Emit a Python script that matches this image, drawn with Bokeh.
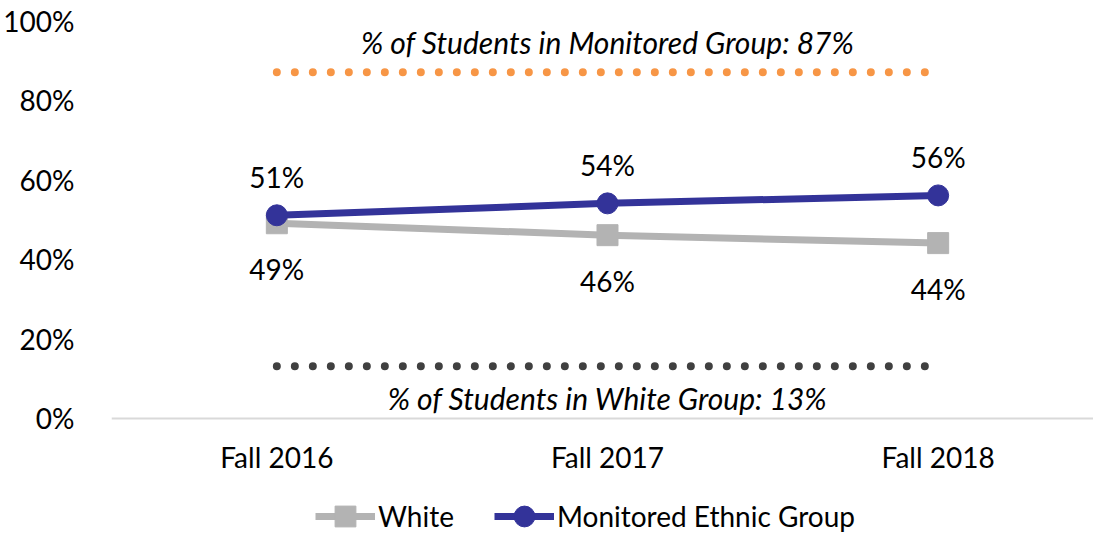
from bokeh.plotting import figure
from bokeh.models import Range1d, FixedTicker, Legend, LegendItem, ColumnDataSource
from bokeh.core.properties import value
from bokeh.embed import file_html
from bokeh.resources import INLINE

terms = ["Fall 2016", "Fall 2017", "Fall 2018"]
white = [0.49, 0.46, 0.44]
monitored = [0.51, 0.54, 0.56]
white_share = 0.13
monitored_share = 0.87
y_ticks = [0, 0.2, 0.4, 0.6, 0.8, 1.0]
y_tick_labels = ["0%", "20%", "40%", "60%", "80%", "100%"]

FONT = "Lato"
FS = "28px"
FS_IT = "30px"
GRAY = "#B3B3B3"
BLUE = "#333399"
ORANGE = "#F79646"
DARK = "#404040"

xs = list(range(len(terms)))

p = figure(width=1093, height=535, output_backend="svg", toolbar_location=None,
           x_range=Range1d(-0.5, 2.4698), y_range=Range1d(-0.2955, 1.0),
           min_border_left=110, min_border_right=0, min_border_top=20, min_border_bottom=0)
p.outline_line_color = None
p.xgrid.visible = False
p.ygrid.visible = False
p.background_fill_color = "white"

# axes
p.xaxis.fixed_location = 0
p.xaxis.ticker = FixedTicker(ticks=xs)
p.xaxis.major_label_overrides = {i: t for i, t in enumerate(terms)}
p.xaxis.axis_line_color = "#D9D9D9"
p.xaxis.axis_line_width = 2
p.xaxis.major_tick_line_color = None
p.xaxis.minor_tick_line_color = None
p.xaxis.major_label_text_font = FONT
p.xaxis.major_label_text_font_size = FS
p.xaxis.major_label_text_color = "black"
p.xaxis.major_label_standoff = 16

p.yaxis.ticker = FixedTicker(ticks=y_ticks)
p.yaxis.major_label_overrides = {t: l for t, l in zip(y_ticks, y_tick_labels)}
p.yaxis.axis_line_color = None
p.yaxis.major_tick_line_color = None
p.yaxis.minor_tick_line_color = None
p.yaxis.major_label_text_font = FONT
p.yaxis.major_label_text_font_size = FS
p.yaxis.major_label_text_color = "black"
p.yaxis.major_label_standoff = 31

# reference share lines
p.line([xs[0], xs[-1]], [monitored_share, monitored_share], line_color=ORANGE,
       line_width=8, line_dash="0 18", line_cap="round")
p.line([xs[0], xs[-1]], [white_share, white_share], line_color=DARK,
       line_width=8, line_dash="0 18", line_cap="round")

p.text(x=[xs[1]], y=[monitored_share],
       text=[f"% of Students in Monitored Group: {round(monitored_share*100)}%"],
       text_font=value(FONT), text_font_style="italic", text_font_size=FS_IT,
       text_align="center", text_baseline="middle", y_offset=-30, text_color="black")
p.text(x=[xs[1]], y=[white_share],
       text=[f"% of Students in White Group: {round(white_share*100)}%"],
       text_font=value(FONT), text_font_style="italic", text_font_size=FS_IT,
       text_align="center", text_baseline="middle", y_offset=32, text_color="black")

# series
src_w = ColumnDataSource(dict(x=xs, y=white, lab=[f"{round(v*100)}%" for v in white]))
src_m = ColumnDataSource(dict(x=xs, y=monitored, lab=[f"{round(v*100)}%" for v in monitored]))

wl = p.line("x", "y", source=src_w, line_color=GRAY, line_width=7)
ws = p.scatter("x", "y", source=src_w, marker="square", size=21, fill_color=GRAY, line_color=GRAY)
ml = p.line("x", "y", source=src_m, line_color=BLUE, line_width=7)
ms = p.scatter("x", "y", source=src_m, marker="circle", size=21, fill_color=BLUE, line_color=BLUE)

p.text("x", "y", text="lab", source=src_w, text_font=value(FONT), text_font_size=FS,
       text_align="center", text_baseline="middle", y_offset=46, text_color="black")
p.text("x", "y", text="lab", source=src_m, text_font=value(FONT), text_font_size=FS,
       text_align="center", text_baseline="middle", y_offset=-38, text_color="black")

legend = Legend(items=[LegendItem(label="White", renderers=[wl, ws]),
                       LegendItem(label="Monitored Ethnic Group", renderers=[ml, ms])],
                orientation="horizontal", location=(204, -7),
                glyph_width=60, glyph_height=52, label_standoff=3, spacing=40,
                padding=0, margin=0, label_text_font=FONT, label_text_font_size=FS,
                label_text_color="black", background_fill_alpha=0, border_line_alpha=0)
p.add_layout(legend, "center")

open("out.html", "w").write(file_html(p, INLINE))
